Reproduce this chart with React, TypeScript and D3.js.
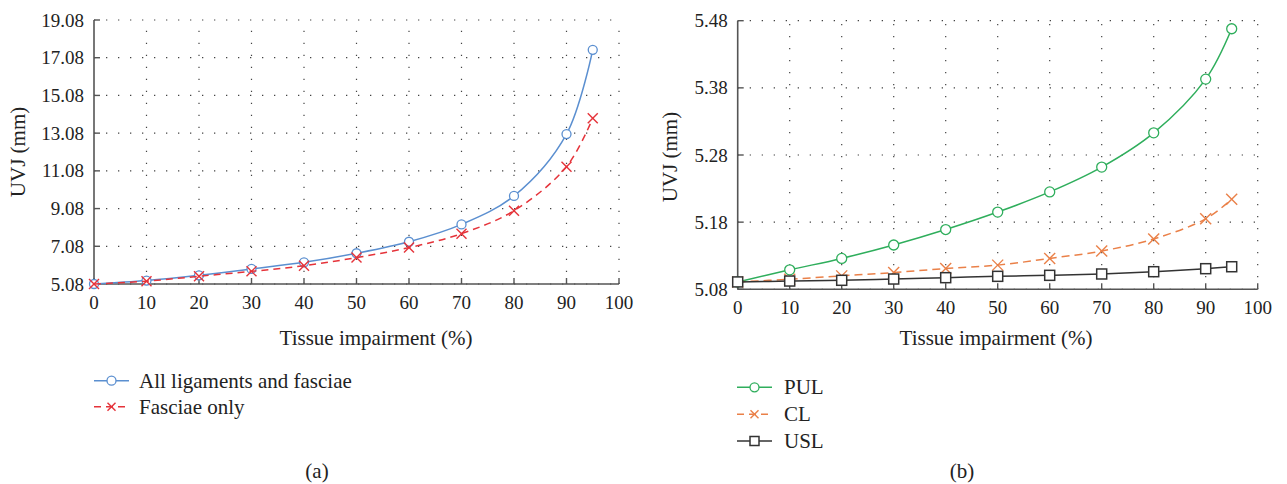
import React from "react";
import * as d3 from "d3";

const xVals = [0, 10, 20, 30, 40, 50, 60, 70, 80, 90, 95];
const allLigaments = [5.08, 5.26, 5.54, 5.88, 6.23, 6.71, 7.32, 8.24, 9.75, 13.03, 17.5];
const fasciaeOnly = [5.08, 5.23, 5.49, 5.75, 6.05, 6.48, 7.01, 7.75, 8.97, 11.3, 13.87];
const pul = [5.091, 5.109, 5.126, 5.146, 5.169, 5.195, 5.225, 5.262, 5.313, 5.393, 5.468];
const cl = [5.091, 5.095, 5.1, 5.105, 5.111, 5.116, 5.126, 5.137, 5.155, 5.185, 5.214];
const usl = [5.091, 5.0923, 5.0934, 5.0953, 5.0973, 5.0993, 5.1008, 5.1028, 5.1062, 5.1107, 5.1136];
const xTicks = [0, 10, 20, 30, 40, 50, 60, 70, 80, 90, 100];
const yTicksA = [5.08, 7.08, 9.08, 11.08, 13.08, 15.08, 17.08, 19.08];
const yTicksB = [5.08, 5.18, 5.28, 5.38, 5.48];

const FONT = "'Liberation Serif', 'Times New Roman', serif";
const AXIS = "#555";
const TXT = "#222";
const TICK_FS = 19;
const LABEL_FS = 21;

type Series = { name: string; values: number[]; color: string; dash?: string; marker: "circle" | "x" | "square" };

function Marker({ type, x, y, color, size }: { type: string; x: number; y: number; color: string; size: number }) {
  if (type === "circle") return <circle cx={x} cy={y} r={size} fill="white" stroke={color} strokeWidth={1.3} />;
  if (type === "square")
    return <rect x={x - size} y={y - size} width={size * 2} height={size * 2} fill="white" stroke={color} strokeWidth={1.5} />;
  const s = size;
  return (
    <g stroke={color} strokeWidth={1.4}>
      <line x1={x - s} y1={y - s} x2={x + s} y2={y + s} />
      <line x1={x - s} y1={y + s} x2={x + s} y2={y - s} />
    </g>
  );
}

function Panel(props: {
  x0: number; x1: number; y0: number; y1: number; yDomain: [number, number]; yTicks: number[];
  series: Series[]; xTickY: number; yTitleX: number; yTitleY: number; markerSize: number; xTitleX: number;
}) {
  const { x0, x1, y0, y1, yDomain, yTicks, series, xTickY, yTitleX, yTitleY, markerSize, xTitleX } = props;
  const x = d3.scaleLinear().domain([0, 100]).range([x0, x1]);
  const y = d3.scaleLinear().domain(yDomain).range([y1, y0]);
  const line = d3
    .line<number>()
    .x((_, i) => x(xVals[i]))
    .y((d) => y(d))
    .curve(d3.curveCatmullRom.alpha(0.5));
  return (
    <g>
      {yTicks.map((t) => (
        <line key={"gy" + t} x1={x0} x2={x1} y1={y(t)} y2={y(t)} stroke="#444" strokeWidth={1.2} strokeDasharray="1.3,10.7" />
      ))}
      {xTicks.slice(1).map((t) => (
        <line key={"gx" + t} x1={x(t)} x2={x(t)} y1={y1} y2={y0} stroke="#444" strokeWidth={1.2} strokeDasharray="1.3,10.7" />
      ))}
      <line x1={x0} x2={x1} y1={y1} y2={y1} stroke={AXIS} strokeWidth={1.6} />
      <line x1={x0} x2={x0} y1={y0} y2={y1} stroke={AXIS} strokeWidth={1.6} />
      {xTicks.map((t) => (
        <g key={"xt" + t}>
          <line x1={x(t)} x2={x(t)} y1={y1} y2={y1 - 6} stroke={AXIS} strokeWidth={1.4} />
          <text x={x(t)} y={xTickY} textAnchor="middle" dominantBaseline="central" fontSize={TICK_FS} fill={TXT} fontFamily={FONT}>
            {t}
          </text>
        </g>
      ))}
      {yTicks.map((t) => (
        <g key={"yt" + t}>
          <line x1={x0} x2={x0 + 6} y1={y(t)} y2={y(t)} stroke={AXIS} strokeWidth={1.4} />
          <text x={x0 - 10} y={y(t)} textAnchor="end" dominantBaseline="central" fontSize={TICK_FS} fill={TXT} fontFamily={FONT}>
            {t.toFixed(2)}
          </text>
        </g>
      ))}
      <text
        x={yTitleX}
        y={yTitleY}
        transform={`rotate(-90 ${yTitleX} ${yTitleY})`}
        textAnchor="middle"
        dominantBaseline="central"
        fontSize={LABEL_FS}
        fill={TXT}
        fontFamily={FONT}
      >
        UVJ (mm)
      </text>
      <text x={xTitleX} y={338} textAnchor="middle" dominantBaseline="central" fontSize={LABEL_FS} fill={TXT} fontFamily={FONT}>
        Tissue impairment (%)
      </text>
      {series.map((s) => (
        <g key={s.name}>
          <path d={line(s.values) || ""} fill="none" stroke={s.color} strokeWidth={1.5} strokeDasharray={s.dash} />
          {s.values.map((v, i) => (
            <Marker key={i} type={s.marker} x={x(xVals[i])} y={y(v)} color={s.color} size={s.marker === "x" ? markerSize + 0.5 : markerSize} />
          ))}
        </g>
      ))}
    </g>
  );
}

function Legend({ items, x, ys, textX }: { items: Series[]; x: [number, number]; ys: number[]; textX: number }) {
  return (
    <g>
      {items.map((s, i) => (
        <g key={s.name}>
          <line x1={x[0]} x2={x[1]} y1={ys[i]} y2={ys[i]} stroke={s.color} strokeWidth={1.5} strokeDasharray={s.dash ? "7,5" : undefined} />
          <Marker type={s.marker} x={(x[0] + x[1]) / 2} y={ys[i]} color={s.color} size={s.marker === "x" ? 4 : 4.5} />
          <text x={textX} y={ys[i]} dominantBaseline="central" fontSize={LABEL_FS} fill={TXT} fontFamily={FONT}>
            {s.name}
          </text>
        </g>
      ))}
    </g>
  );
}

export default function App() {
  const seriesA: Series[] = [
    { name: "All ligaments and fasciae", values: allLigaments, color: "#5b8fd0", marker: "circle" },
    { name: "Fasciae only", values: fasciaeOnly, color: "#e5333a", dash: "7,5", marker: "x" },
  ];
  const seriesB: Series[] = [
    { name: "PUL", values: pul, color: "#2fae5c", marker: "circle" },
    { name: "CL", values: cl, color: "#ea8048", dash: "8,5", marker: "x" },
    { name: "USL", values: usl, color: "#333", marker: "square" },
  ];
  return (
    <svg width={1287} height={484} style={{ position: "absolute", left: 0, top: 0, background: "white" }}>
      <Panel x0={94} x1={619} y0={20} y1={284} yDomain={[5.08, 19.08]} yTicks={yTicksA} series={seriesA} xTickY={302} yTitleX={18} yTitleY={152} markerSize={4.5} xTitleX={376} />
      <Panel x0={737.7} x1={1257.7} y0={20.7} y1={289.3} yDomain={[5.08, 5.48]} yTicks={yTicksB} series={seriesB} xTickY={307} yTitleX={670} yTitleY={157} markerSize={5} xTitleX={996} />
      <Legend items={seriesA} x={[94, 129]} ys={[380.7, 406.7]} textX={139} />
      <Legend items={seriesB} x={[737, 772]} ys={[387.3, 414.3, 441]} textX={784} />
      <text x={317} y={471} textAnchor="middle" dominantBaseline="central" fontSize={LABEL_FS} fill={TXT} fontFamily={FONT}>(a)</text>
      <text x={962} y={471} textAnchor="middle" dominantBaseline="central" fontSize={LABEL_FS} fill={TXT} fontFamily={FONT}>(b)</text>
    </svg>
  );
}
